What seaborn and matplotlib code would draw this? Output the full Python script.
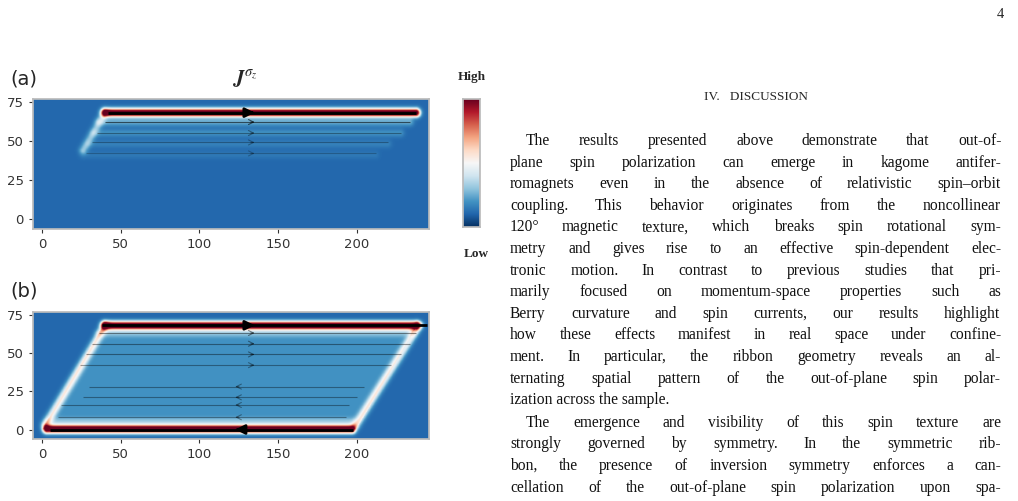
import numpy as np
import matplotlib
matplotlib.use("Agg")
import matplotlib.pyplot as plt
import seaborn as sns
from matplotlib.textpath import TextPath
from matplotlib.font_manager import FontProperties

sns.set_theme(style="white")
plt.rcParams['font.family'] = ['DejaVu Sans']
plt.rcParams['mathtext.fontset'] = 'stix'

# ---------------- data ----------------
# bright edge segments: (x0, y0, x1, y1, amplitude)
edges_a = [(40, 68, 238, 68, 1.25), (36, 62, 234, 62, 0.16), (40, 68, 26, 44, 0.22),
           (33, 55, 228, 55, 0.10), (30, 48, 220, 48, 0.06), (26, 41, 212, 41, 0.04)]
edges_b = [(40, 68, 238, 68, 1.25), (3, 0, 197, 0, 1.25), (2, 3, 40, 68, 0.40),
           (200, 3, 240, 68, 0.40), (36, 63, 236, 63, 0.12), (3, 5, 198, 5, 0.12)]
interior_b = 0.10
# streamlines: (y, x_start, x_end, direction, strength)
stream_a = [(68, 42, 238, 1, 1.0), (62, 40, 234, 1, 0.5), (55, 35, 228, 1, 0.25),
            (49, 32, 220, 1, 0.18), (42, 28, 212, 1, 0.1)]
stream_b = [(68, 38, 245, 1, 1.0), (63, 36, 238, 1, 0.35), (56, 32, 234, 1, 0.3),
            (49, 28, 228, 1, 0.3), (42, 24, 222, 1, 0.25), (28, 30, 205, -1, 0.25),
            (21, 26, 200, -1, 0.25), (16, 12, 195, -1, 0.25), (8, 10, 193, -1, 0.25),
            (0, 5, 198, -1, 1.0)]
arrow_x = {1: 133, -1: 125}
xticks = [0, 50, 100, 150, 200]
yticks = [0, 25, 50, 75]

body = [
    ("The results presented above demonstrate that out-of-", True, False),
    ("plane spin polarization can emerge in kagome antifer-", False, False),
    ("romagnets even in the absence of relativistic spin–orbit", False, False),
    ("coupling. This behavior originates from the noncollinear", False, False),
    ("120° magnetic texture, which breaks spin rotational sym-", False, False),
    ("metry and gives rise to an effective spin-dependent elec-", False, False),
    ("tronic motion. In contrast to previous studies that pri-", False, False),
    ("marily focused on momentum-space properties such as", False, False),
    ("Berry curvature and spin currents, our results highlight", False, False),
    ("how these effects manifest in real space under confine-", False, False),
    ("ment. In particular, the ribbon geometry reveals an al-", False, False),
    ("ternating spatial pattern of the out-of-plane spin polar-", False, False),
    ("ization across the sample.", False, True),
    ("The emergence and visibility of this spin texture are", True, False),
    ("strongly governed by symmetry. In the symmetric rib-", False, False),
    ("bon, the presence of inversion symmetry enforces a can-", False, False),
    ("cellation of the out-of-plane spin polarization upon spa-", False, False),
]

# ---------------- field ----------------
xs = np.arange(-6, 247, 0.5)
ys = np.arange(-7, 77, 0.5)
X, Y = np.meshgrid(xs, ys)

def segdist(x0, y0, x1, y1):
    dx, dy = x1 - x0, y1 - y0
    t = np.clip(((X - x0) * dx + (Y - y0) * dy) / (dx * dx + dy * dy), 0, 1)
    return np.hypot(X - (x0 + t * dx), Y - (y0 + t * dy))

def field(edges, interior):
    F = np.zeros(X.shape)
    if interior:
        inside = (Y >= 0) & (Y <= 68) & (X >= 0.57 * Y) & (X <= 200 + 0.57 * Y)
        F = F + interior * inside
    for (x0, y0, x1, y1, a) in edges:
        d = segdist(x0, y0, x1, y1)
        F = F + a * np.exp(-(d / 2.6) ** 2)
    return F

cmap = sns.color_palette("RdBu_r", as_cmap=True)
VMIN, VMAX = -0.12, 1.0

W, H = 1018, 501
fig = plt.figure(figsize=(W / 100, H / 100), dpi=100)

def ax_px(l, t, r, b):
    return fig.add_axes([l / W, 1 - b / H, (r - l) / W, (b - t) / H])

def panel(ax, edges, interior, streams):
    F = field(edges, interior)
    ax.imshow(F, cmap=cmap, vmin=VMIN, vmax=VMAX, origin="lower",
              extent=[xs[0], xs[-1], ys[0], ys[-1]], aspect="auto", interpolation="bilinear")
    for (y, xa, xb, d, s) in streams:
        lw = 2.0 if s >= 1 else 0.8
        col = (0, 0, 0, min(1, 0.15 + 0.85 * s))
        ax.plot([xa, xb], [y, y], color=col, lw=lw, solid_capstyle="butt")
        xm = arrow_x[d]
        ax.annotate("", xy=(xm + 4 * d, y), xytext=(xm - 2 * d, y),
                    arrowprops=dict(arrowstyle="-|>" if s >= 1 else "->", color=col,
                                    lw=lw, mutation_scale=14 if s >= 1 else 9))
    ax.set_xlim(-5.7, 246)
    ax.set_ylim(-6.2, 76.7)
    ax.set_xticks(xticks)
    ax.set_yticks(yticks)
    ax.tick_params(labelsize=9.5, colors="#333333", length=3, width=0.8, left=True, bottom=True)
    for sp in ax.spines.values():
        sp.set_color("#bbbbbb")

axa = ax_px(33, 99, 429, 229)
panel(axa, edges_a, 0, stream_a)
axb = ax_px(33, 312, 429, 439)
panel(axb, edges_b, interior_b, stream_b)

cax = ax_px(463, 99, 480, 227)
cax.imshow(np.linspace(0, 1, 256)[:, None], cmap=cmap, aspect="auto", origin="lower")
cax.set_xticks([]); cax.set_yticks([])
for sp in cax.spines.values():
    sp.set_color("#bbbbbb")

def ftxt(x, y, s, **kw):
    fig.text(x / W, 1 - y / H, s, **kw)

ftxt(10, 79, "(a)", fontsize=14, va="center", ha="left")
ftxt(10, 291, "(b)", fontsize=14, va="center", ha="left")
ftxt(245, 79, r"$\mathbfit{J}^{\sigma_z}$", fontsize=15, va="center", ha="center")
ftxt(472, 77, "High", fontsize=9.5, weight="bold", va="center", ha="center", family="Liberation Serif")
ftxt(476, 254, "Low", fontsize=9.5, weight="bold", va="center", ha="center", family="Liberation Serif")
ftxt(1004, 14, "4", fontsize=10.5, va="center", ha="right", family="Liberation Serif")
ftxt(756, 97, "IV.   DISCUSSION", fontsize=9.5, va="center", ha="center", family="Liberation Serif")

# justified body text
FS = 11.2
fp = FontProperties(family="Liberation Serif", size=FS)
props = dict(fontsize=FS, family="Liberation Serif", va="center", ha="left", color="#111111")

def wpx(w):
    return TextPath((0, 0), w, prop=fp).get_extents().width * 100 / 72 if w.strip() else 0

L, R = 510, 1000
y0, dy = 141, 21.6
for i, (line, indent, last) in enumerate(body):
    y = y0 + i * dy + (0 if i < 13 else 1)
    start = L + (16 if indent else 0)
    words = line.split(" ")
    if last or len(words) == 1:
        ftxt(start, y, line, **props)
        continue
    widths = [wpx(w) for w in words]
    gap = (R - start - sum(widths)) / (len(words) - 1)
    gap = max(gap, 2.5)
    x = start
    for w, wd in zip(words, widths):
        ftxt(x, y, w, **props)
        x += wd + gap

fig.savefig("out.png", dpi=100)
